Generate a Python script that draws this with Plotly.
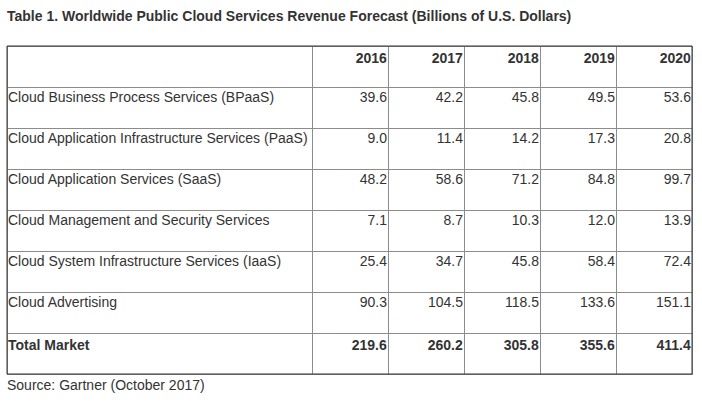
import plotly.graph_objects as go

W, H = 702, 406

title = 'Table 1. Worldwide Public Cloud Services Revenue Forecast (Billions of U.S. Dollars)'
source = 'Source: Gartner (October 2017)'

years = ['2016', '2017', '2018', '2019', '2020']
services = [
    'Cloud Business Process Services (BPaaS)',
    'Cloud Application Infrastructure Services (PaaS)',
    'Cloud Application Services (SaaS)',
    'Cloud Management and Security Services',
    'Cloud System Infrastructure Services (IaaS)',
    'Cloud Advertising',
    'Total Market',
]

bpaas = [39.6, 42.2, 45.8, 49.5, 53.6]
paas = [9.0, 11.4, 14.2, 17.3, 20.8]
saas = [48.2, 58.6, 71.2, 84.8, 99.7]
mgmt_security = [7.1, 8.7, 10.3, 12.0, 13.9]
iaas = [25.4, 34.7, 45.8, 58.4, 72.4]
advertising = [90.3, 104.5, 118.5, 133.6, 151.1]
total = [219.6, 260.2, 305.8, 355.6, 411.4]

rows = [bpaas, paas, saas, mgmt_security, iaas, advertising, total]

TEXT = '#333333'
GRID = '#8c8c8c'
CLEAR = 'rgba(0,0,0,0)'
ROW_H = 41


def fmt(v, bold):
    s = f'{v:.1f}'
    return f'<b>{s}</b>' if bold else s


last = len(rows) - 1
num_cols = [[fmt(r[i], k == last) for k, r in enumerate(rows)] for i in range(len(years))]
label_col = [f'<b>{s}</b>' if k == last else s for k, s in enumerate(services)]

# table box in pixels: left 7, right 692, top 46
left, right, top = 7, 692, 46
first_w = 305
bottom = top + ROW_H * (len(rows) + 1) + 4
ydom = [1 - bottom / H, 1 - top / H]
pad = 8  # plotly's fixed cell padding
dy = 4   # lift text a little, plotly puts it lower than the source

fig = go.Figure()

# grid only
fig.add_trace(go.Table(
    domain=dict(x=[left / W, right / W], y=ydom),
    columnwidth=[first_w] + [76] * len(years),
    header=dict(values=[''] * (len(years) + 1), height=ROW_H,
                fill_color='white', line=dict(color=GRID, width=1)),
    cells=dict(values=[[''] * len(rows)] * (len(years) + 1), height=ROW_H,
               fill_color='white', line=dict(color=GRID, width=1)),
))

font = dict(family='Liberation Sans, Arial, sans-serif', size=14, color=TEXT)

# labels, shifted so text sits on the left rule (extra width so nothing wraps)
fig.add_trace(go.Table(
    domain=dict(x=[(left + 1 - pad) / W, (left + 1 - pad + first_w + 2 * pad) / W],
                y=[ydom[0] + dy / H, ydom[1] + dy / H]),
    header=dict(values=[''], height=ROW_H, fill_color=CLEAR,
                line=dict(color=CLEAR, width=0), align='left', font=font),
    cells=dict(values=[label_col], height=ROW_H, fill_color=CLEAR,
               line=dict(color=CLEAR, width=0), align='left', font=font),
))

# numbers, shifted so text ends on each right rule
fig.add_trace(go.Table(
    domain=dict(x=[(left + first_w + pad - 1) / W, (right + pad - 1) / W],
                y=[ydom[0] + dy / H, ydom[1] + dy / H]),
    header=dict(values=[f'<b>{y}</b>' for y in years], height=ROW_H, fill_color=CLEAR,
                line=dict(color=CLEAR, width=0), align='right', font=font),
    cells=dict(values=num_cols, height=ROW_H, fill_color=CLEAR,
               line=dict(color=CLEAR, width=0), align='right', font=font),
))

fig.add_shape(type='rect', xref='paper', yref='paper',
              x0=left / W, x1=right / W,
              y0=1 - (top + ROW_H * (len(rows) + 1)) / H, y1=1 - top / H,
              line=dict(color='#333333', width=1))

fig.add_annotation(text=f'<b>{title}</b>', xref='paper', yref='paper',
                   x=(left - 2) / W, y=1 - 16 / H, xanchor='left', yanchor='middle',
                   showarrow=False, font=font)
fig.add_annotation(text=source, xref='paper', yref='paper',
                   x=(left - 2) / W, y=1 - 385 / H, xanchor='left', yanchor='middle',
                   showarrow=False, font=font)

fig.update_layout(width=W, height=H, margin=dict(l=0, r=0, t=0, b=0),
                  paper_bgcolor='white', plot_bgcolor='white')

fig.write_html('out.html', config={'displayModeBar': False},
               post_script="document.body.style.margin='0';")
